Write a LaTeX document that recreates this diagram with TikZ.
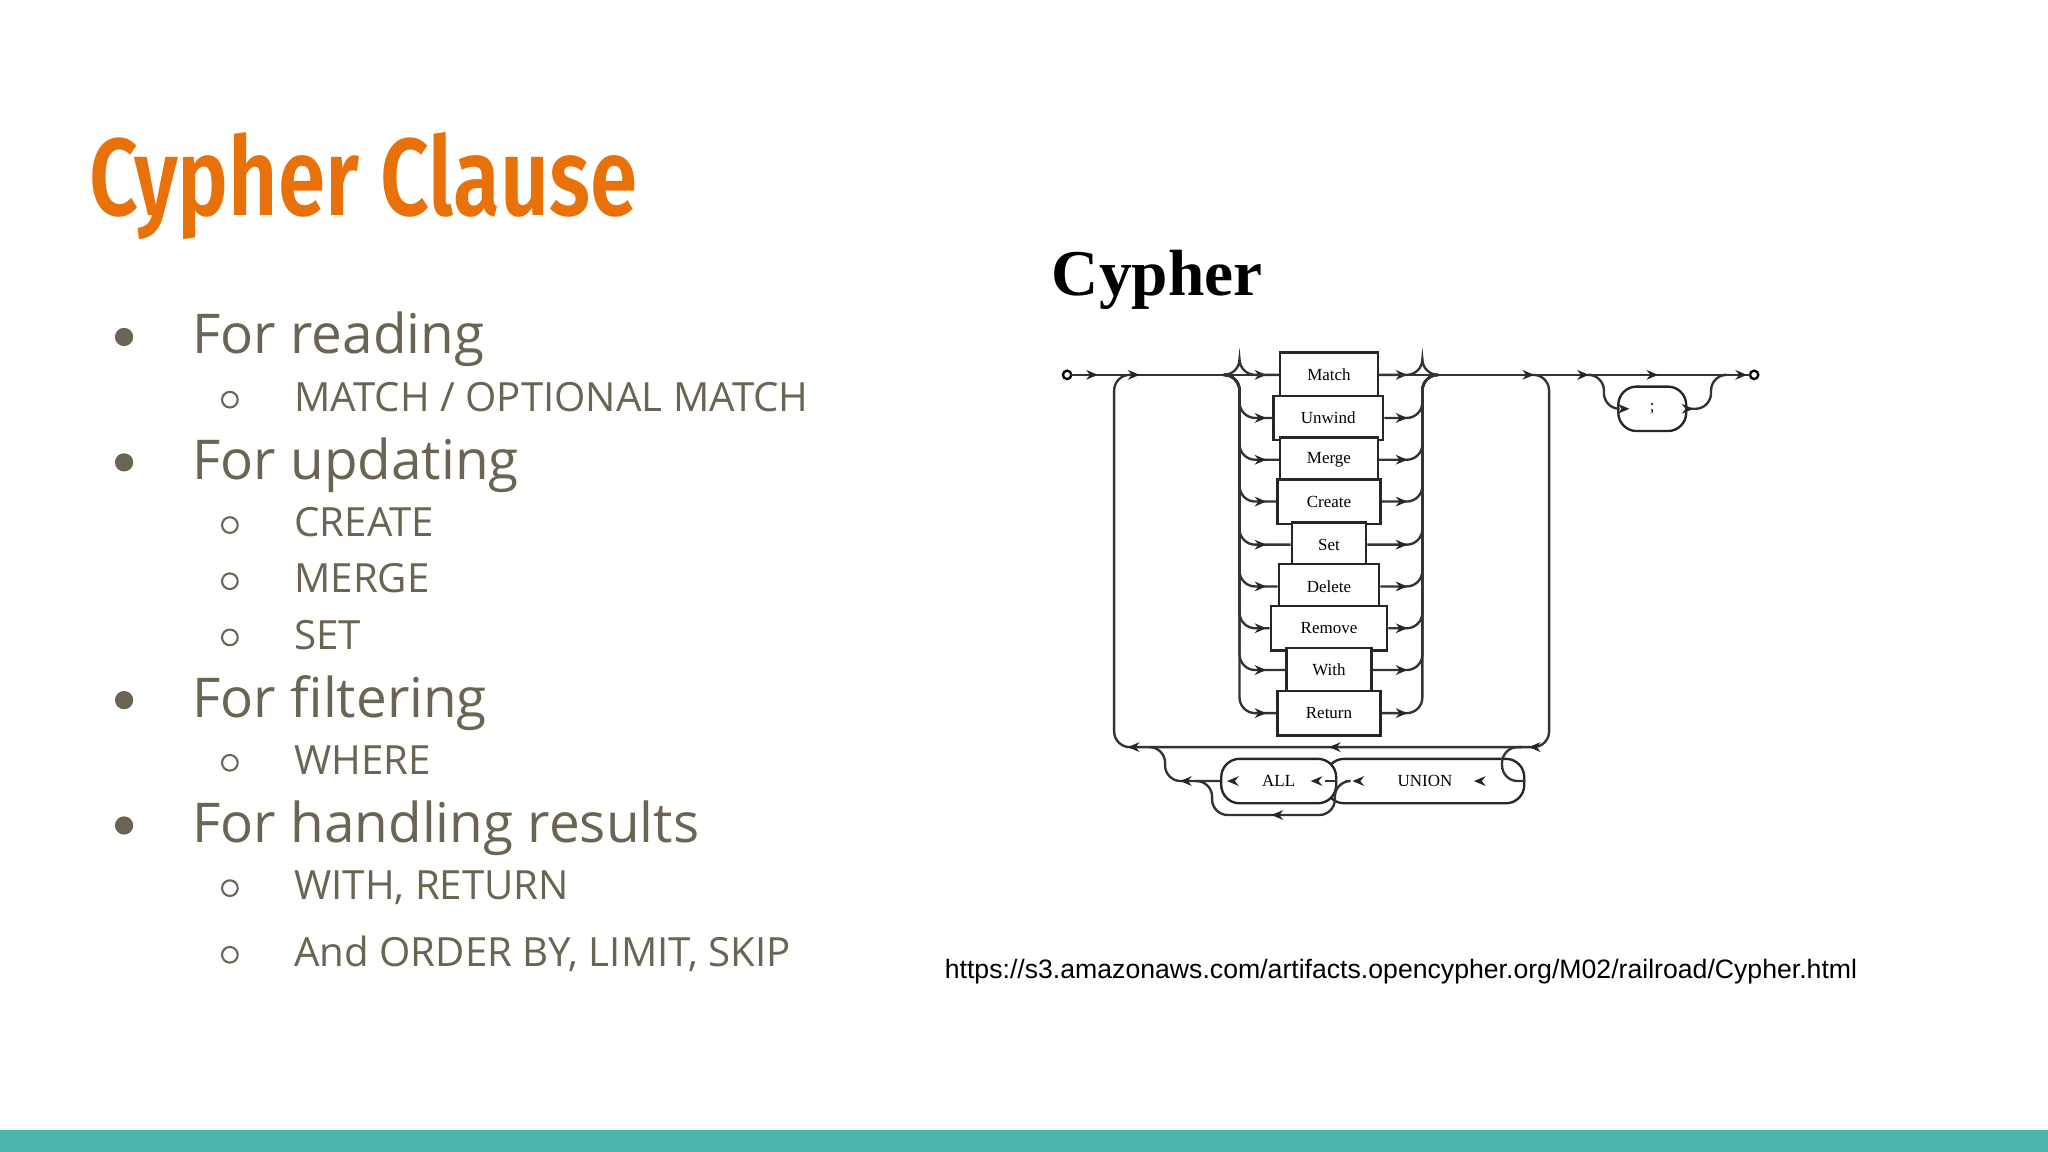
\documentclass[tikz,border=0pt]{standalone}
\usepackage{fontspec}
\setmainfont{Open Sans}
\newfontfamily\titlefont[FakeStretch=0.78]{Fira Sans SemiBold}
\newfontfamily\rrfont{Liberation Serif}
\newfontfamily\urlfont{Liberation Sans}
\definecolor{txt}{HTML}{6B6452}
\definecolor{orng}{HTML}{E8710A}
\definecolor{teal}{HTML}{4DB6AC}
\tikzset{
 rr/.style={line width=0.9pt, draw=black!80, rounded corners=6},
 kw/.style={draw=black!85, line width=0.9pt, inner sep=0pt, minimum height=17, font=\rrfont\fontsize{6.5}{7}\selectfont, fill=white},
 kwr/.style={kw, rounded corners=7},
 ra/.pic={\fill[black!85] (-4.5,-3.8) -- (4.5,0) -- (-4.5,3.8) -- (-1.5,0) -- cycle;},
 la/.pic={\fill[black!85] (4.5,-3.8) -- (-4.5,0) -- (4.5,3.8) -- (1.5,0) -- cycle;},
 main/.style={anchor=base west, text=txt, font=\fontsize{21}{24}\selectfont},
 sub/.style={anchor=base west, text=txt, font=\fontsize{15.4}{18}\selectfont},
}
\begin{document}
\begin{tikzpicture}[x=0.5pt,y=-0.5pt]
\useasboundingbox (0,0) rectangle (1568,882);
\fill[teal] (0,865) rectangle (1568,882);
\node[anchor=base west, text=orng, inner sep=0, font=\titlefont\fontsize{42}{44}\selectfont] (title) at (68,165) {Cypher Clause};
% bullets
\foreach \y/\t [count=\i] in {256/{For reading},352/{For updating},534/{For filtering},630/{For handling results}}{
  \fill[txt] (95,\y+2) circle (7);
  \node[main, inner sep=0] (m\i) at (147,\y+15) {\t};
}
\foreach \y/\t [count=\i] in {304/{MATCH / OPTIONAL MATCH},400/{CREATE},443/{MERGE},486/{SET},582/{WHERE},678/{WITH, RETURN},729/{And ORDER BY, LIMIT, SKIP}}{
  \draw[txt, line width=0.8pt] (176,\y+2) circle (6);
  \node[sub, inner sep=0] (s\i) at (225,\y+11) {\t};
}
% heading
\node[anchor=base west, inner sep=0, font=\rrfont\bfseries\fontsize{25}{28}\selectfont] (cy) at (805,226) {Cypher};
\node[anchor=base west, inner sep=0, font=\urlfont\fontsize{10.2}{12}\selectfont] (url) at (723,749) {https://s3.amazonaws.com/artifacts.opencypher.org/M02/railroad/Cypher.html};
% railroad
\draw[line width=0.9pt] (817,287) circle (3.2);
\draw[line width=0.9pt] (1343,287) circle (3.2);
\foreach \n/\y/\a/\b in {Match/287/980/1055,Unwind/320/975/1059,Merge/352/980/1055,Create/384/978/1057,Set/417/989/1046,Delete/449/979/1056,Remove/481/973/1062,With/513/985/1050,Return/546/978/1057}{
  \node[kw, minimum width={(\b-\a)*0.5pt}] (\n) at ({(\a+\b)/2},\y) {\n};
  \draw[rr] (937,287) -- (949,287) -- (949,\y) -- (\n.west);
  \draw[rr] (\n.east) -- (1089,\y) -- (1089,287) -- (1101,287);
  \pic at (965,\y) {ra};
  \pic at (1073,\y) {ra};
}
\draw[rr] (820.2,287) -- (Match.west);
\draw[rr] (Match.east) -- (1339.8,287);
\draw[rr] (1174,287) -- (1186,287) -- (1186,572) -- (853,572) -- (853,287) -- (866,287);
\node[kwr, minimum width=76] (union) at (1091,598) {UNION};
\node[kwr, minimum width=44] (all) at (979,598) {ALL};
\node[kwr, minimum width=26, minimum height=17] (semi) at (1265,313) {;};
\draw[rr] (1165,572) -- (1150,572) -- (1150,598) -- (union.east);
\draw[rr] (union.west) -- (all.east);
\draw[rr] (all.west) -- (892,598) -- (892,572) -- (880,572);
\draw[rr] (1030,598) -- (1022,598) -- (1022,624) -- (928,624) -- (928,598) -- (918,598);
\draw[rr] (1218,287) -- (1228,287) -- (1228,313) -- (semi.west);
\draw[rr] (semi.east) -- (1310,313) -- (1310,287) -- (1320,287);
\foreach \x in {836,868,1170,1212,1265,1333} \pic at (\x,287) {ra};
\pic at (1243,313) {ra};
\pic at (1292,313) {ra};
\foreach \x in {868,1022,1175} \pic at (\x,572) {la};
\foreach \x in {908,944,1008,1040,1133} \pic at (\x,598) {la};
\pic at (978,624) {la};
\end{tikzpicture}
\end{document}
